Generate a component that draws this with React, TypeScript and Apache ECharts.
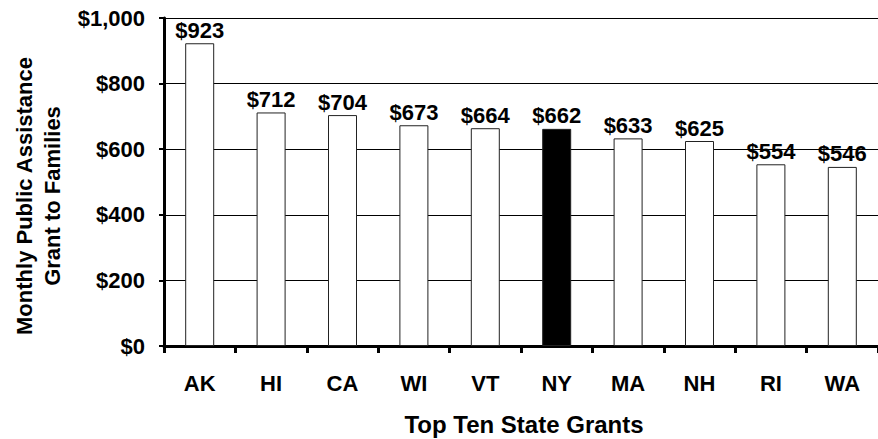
import React, { useEffect, useRef } from "react";
import * as echarts from "echarts";

const categories = ["AK", "HI", "CA", "WI", "VT", "NY", "MA", "NH", "RI", "WA"];
const values = [923, 712, 704, 673, 664, 662, 633, 625, 554, 546];
const highlight = "NY";
const yTicks = [0, 200, 400, 600, 800, 1000];

const FONT = "'Liberation Sans', Arial, sans-serif";

export default function App() {
  const ref = useRef<HTMLDivElement>(null);
  useEffect(() => {
    if (!ref.current) return;
    const chart = echarts.init(ref.current, undefined, { renderer: "svg" });
    chart.setOption({
      animation: false,
      backgroundColor: "#ffffff",
      grid: { left: 164, top: 18, width: 722, height: 328, containLabel: false },
      xAxis: {
        type: "category",
        data: categories,
        axisLine: { show: true, lineStyle: { color: "#000", width: 3 } },
        axisTick: { show: true, length: 7, lineStyle: { color: "#000", width: 3 } },
        axisLabel: {
          margin: 26,
          color: "#000",
          fontFamily: FONT,
          fontWeight: "bold",
          fontSize: 22,
        },
        splitLine: { show: false },
      },
      yAxis: {
        type: "value",
        min: yTicks[0],
        max: yTicks[yTicks.length - 1],
        interval: 200,
        axisLine: { show: true, lineStyle: { color: "#000", width: 3 } },
        axisTick: { show: true, length: 5, lineStyle: { color: "#000", width: 2 } },
        axisLabel: {
          margin: 19,
          color: "#000",
          fontFamily: FONT,
          fontWeight: "bold",
          fontSize: 22,
          formatter: (v: number) => "$" + v.toLocaleString("en-US"),
        },
        splitLine: { show: true, lineStyle: { color: "#000", width: 1 } },
      },
      graphic: [
        {
          type: "text",
          x: 524,
          y: 424,
          style: {
            text: "Top Ten State Grants",
            fill: "#000",
            font: `bold 24px ${FONT}`,
            textAlign: "center",
            textVerticalAlign: "middle",
          },
        },
        {
          type: "text",
          x: 38,
          y: 196,
          rotation: Math.PI / 2,
          style: {
            text: "Monthly Public Assistance\nGrant to Families",
            fill: "#000",
            font: `bold 22px ${FONT}`,
            textAlign: "center",
            textVerticalAlign: "middle",
            lineHeight: 28,
          },
        },
      ],
      series: [
        {
          type: "bar",
          barWidth: 29,
          data: values.map((v, i) => ({
            value: v,
            itemStyle: {
              color: categories[i] === highlight ? "#000" : "#fff",
              borderColor: "#222",
              borderWidth: 1,
            },
          })),
          label: {
            show: true,
            position: "top",
            distance: 2,
            color: "#000",
            fontFamily: FONT,
            fontWeight: "bold",
            fontSize: 22,
            formatter: (p: any) => "$" + p.value,
          },
        },
      ],
    });
    return () => chart.dispose();
  }, []);
  return <div ref={ref} style={{ width: 878, height: 439, position: "absolute", left: 0, top: 0 }} />;
}
